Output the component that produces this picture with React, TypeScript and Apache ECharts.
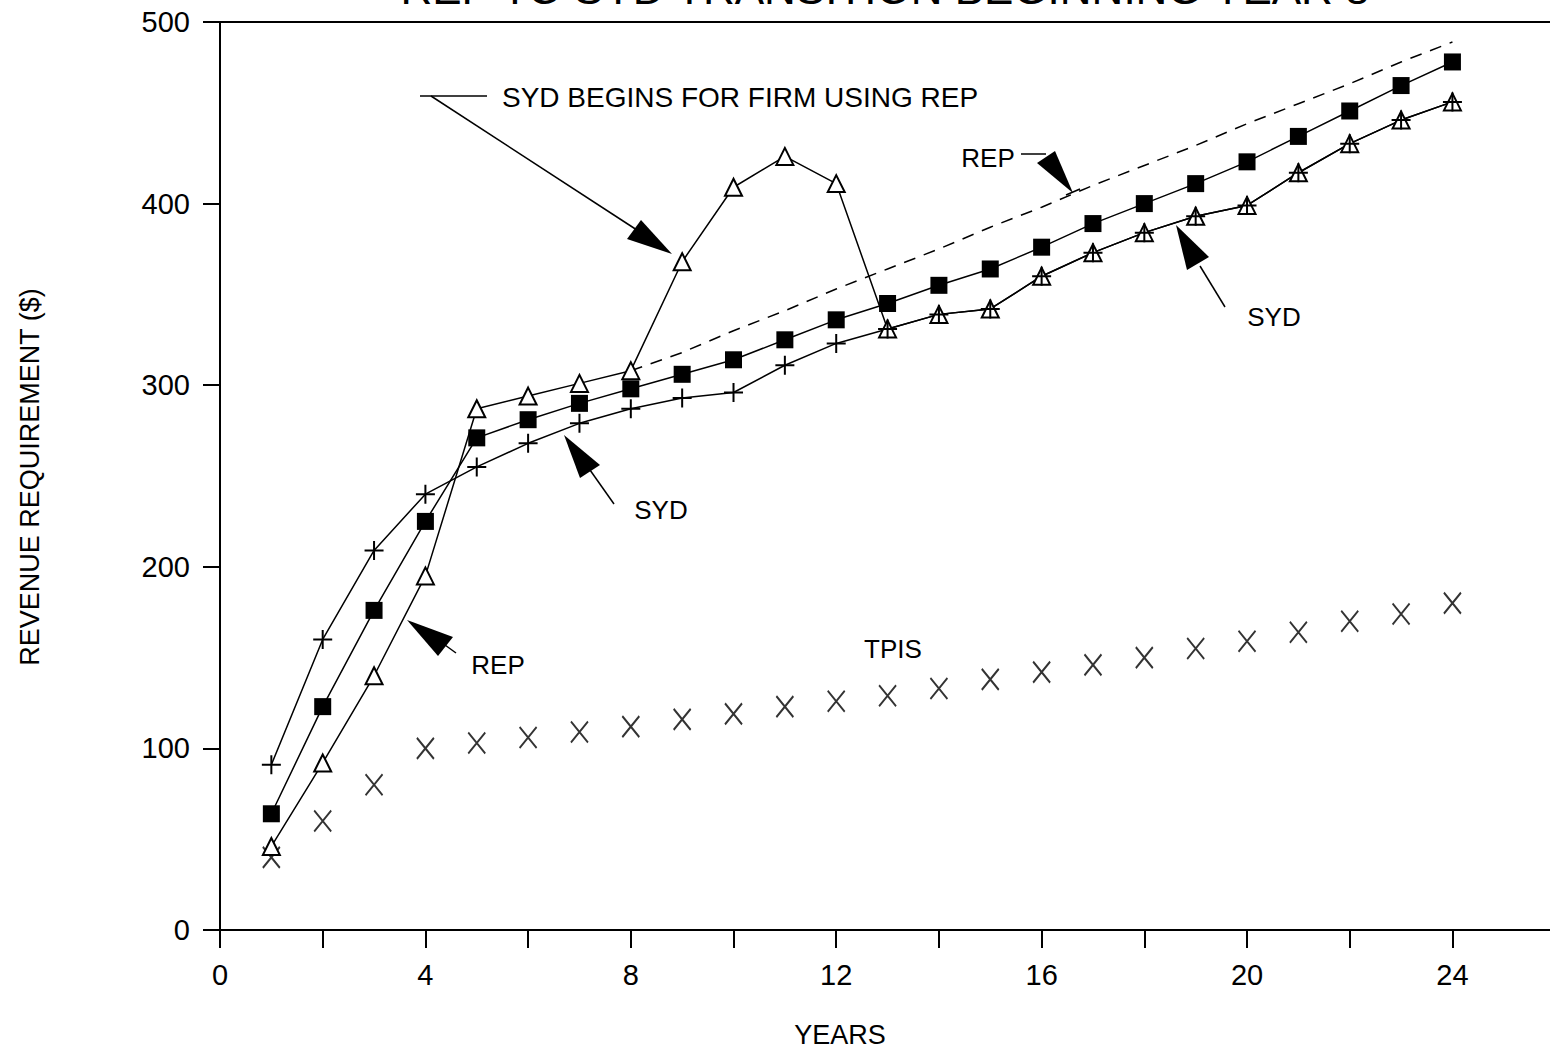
import React, { useEffect, useRef } from "react";
import * as echarts from "echarts";

const years = [1, 2, 3, 4, 5, 6, 7, 8, 9, 10, 11, 12, 13, 14, 15, 16, 17, 18, 19, 20, 21, 22, 23, 24];
// SYD (+ markers)
const sydValues = [91, 160, 209, 240, 255, 268, 279, 287, 293, 296, 311, 323, 331, 339, 342, 360, 373, 384, 393, 399, 417, 433, 446, 456];
// filled squares
const squareValues = [64, 123, 176, 225, 271, 281, 290, 298, 306, 314, 325, 336, 345, 355, 364, 376, 389, 400, 411, 423, 437, 451, 465, 478];
// REP switching to SYD (hollow triangles)
const repSwitchValues = [46, 92, 140, 195, 287, 294, 301, 308, 368, 409, 426, 411, 331, 339, 342, 360, 373, 384, 393, 399, 417, 433, 446, 456];
// REP continued (dashed)
const repContYears = [8, 9, 10, 11, 12, 13, 14, 15, 16, 17, 18, 19, 20, 21, 22, 23, 24];
const repContValues = [308, 318, 330, 341, 353, 364, 375, 387, 398, 410, 421, 432, 444, 455, 466, 478, 489];
// TPIS (x markers)
const tpisValues = [40, 60, 80, 100, 103, 106, 109, 112, 116, 119, 123, 126, 129, 133, 138, 142, 146, 150, 155, 159, 164, 170, 174, 180];

const yTicks = [0, 100, 200, 300, 400, 500];

const FONT = '"Liberation Sans", Arial, sans-serif';

export default function App() {
  const ref = useRef<HTMLDivElement>(null);
  useEffect(() => {
    document.body.style.margin = "0";
    if (!ref.current) return;
    const chart = echarts.init(ref.current, null, { renderer: "svg" });
    const pair = (xs: number[], ys: number[]) => xs.map((x, i) => [x, ys[i]]);
    const txt = (text: string, x: number, y: number, size: number, extra: any = {}) => ({
      type: "text",
      x,
      y,
      ...extra,
      style: {
        text,
        font: `${size}px ${FONT}`,
        fill: "#000",
        textAlign: "center",
        textVerticalAlign: "middle",
      },
    });
    const ln = (x1: number, y1: number, x2: number, y2: number) => ({
      type: "line",
      shape: { x1, y1, x2, y2 },
      style: { stroke: "#000", lineWidth: 1.5 },
    });
    const tri = (pts: number[][]) => ({
      type: "polygon",
      shape: { points: pts },
      style: { fill: "#000" },
    });
    const axisCommon = {
      axisLine: { show: true, lineStyle: { color: "#000", width: 2 } },
      axisTick: { show: true, inside: false, lineStyle: { color: "#000", width: 2 } },
      splitLine: { show: false },
    };
    chart.setOption({
      animation: false,
      backgroundColor: "#fff",
      grid: { left: 220, top: 22, width: 1330, height: 908 },
      xAxis: [
        {
          type: "value",
          min: 0,
          max: 25.9,
          interval: 2,
          ...axisCommon,
          axisTick: { ...axisCommon.axisTick, length: 18 },
          axisLabel: {
            show: true,
            margin: 30,
            fontSize: 29,
            fontFamily: FONT,
            color: "#000",
            showMaxLabel: false,
            formatter: (v: number) => (v % 4 === 0 ? String(v) : ""),
          },
        },
        {
          type: "value",
          position: "top",
          min: 0,
          max: 25.9,
          axisLine: { show: true, lineStyle: { color: "#000", width: 2 } },
          axisTick: { show: false },
          axisLabel: { show: false },
          splitLine: { show: false },
        },
      ],
      yAxis: {
        type: "value",
        min: yTicks[0],
        max: yTicks[yTicks.length - 1],
        interval: 100,
        ...axisCommon,
        axisTick: { ...axisCommon.axisTick, length: 17 },
        axisLabel: { margin: 30, fontSize: 29, fontFamily: FONT, color: "#000" },
      },
      series: [
        {
          type: "line",
          name: "REP to SYD",
          data: pair(years, repSwitchValues),
          symbol: "triangle",
          symbolSize: 17,
          lineStyle: { color: "#000", width: 1.5 },
          itemStyle: { color: "#fff", borderColor: "#000", borderWidth: 2 },
        },
        {
          type: "line",
          name: "REP continued",
          data: pair(repContYears, repContValues),
          symbol: "none",
          lineStyle: { color: "#000", width: 1.5, type: [12, 9] },
        },
        {
          type: "line",
          name: "Squares",
          data: pair(years, squareValues),
          symbol: "rect",
          symbolSize: 17,
          lineStyle: { color: "#000", width: 1.5 },
          itemStyle: { color: "#000" },
        },
        {
          type: "line",
          name: "SYD",
          data: pair(years, sydValues),
          symbol: "path://M0,-10 L0,10 M-10,0 L10,0",
          symbolSize: 19,
          lineStyle: { color: "#000", width: 1.5 },
          itemStyle: { color: "rgba(0,0,0,0)", borderColor: "#000", borderWidth: 2 },
        },
        {
          type: "scatter",
          name: "TPIS",
          data: pair(years, tpisValues),
          symbol: "path://M-8,-10 L8,10 M-8,10 L8,-10",
          symbolSize: [17, 21],
          itemStyle: { color: "rgba(0,0,0,0)", borderColor: "#000", borderWidth: 2 },
        },
      ],
      graphic: [
        txt("REP TO SYD TRANSITION BEGINNING YEAR 8", 885, -12, 44),
        txt("REVENUE REQUIREMENT ($)", 30, 477, 27, { rotation: Math.PI / 2 }),
        txt("YEARS", 840, 1035, 27),
        // SYD begins annotation
        { ...txt("SYD BEGINS FOR FIRM USING REP", 502, 97, 28), style: { text: "SYD BEGINS FOR FIRM USING REP", font: `28px ${FONT}`, fill: "#000", textAlign: "left", textVerticalAlign: "middle" } },
        ln(420, 96, 487, 96),
        ln(431, 96, 640, 232),
        tri([[627, 239], [641, 220], [672, 254]]),
        // REP (upper)
        txt("REP", 988, 158, 26),
        ln(1021, 154, 1046, 154),
        tri([[1037, 163], [1055, 151], [1073, 193]]),
        ln(1066, 195, 1080, 189),
        // SYD (right)
        txt("SYD", 1274, 317, 26),
        ln(1225, 307, 1200, 266),
        tri([[1187, 270], [1209, 257], [1176, 225]]),
        // SYD (middle)
        txt("SYD", 661, 510, 26),
        ln(614, 504, 590, 470),
        tri([[580, 478], [600, 465], [564, 435]]),
        // REP (lower)
        txt("REP", 498, 665, 26),
        ln(456, 653, 445, 645),
        tri([[438, 656], [453, 637], [407, 620]]),
        // TPIS
        txt("TPIS", 893, 649, 26),
      ],
    });
    return () => chart.dispose();
  }, []);
  return <div ref={ref} style={{ width: 1550, height: 1051 }} />;
}
